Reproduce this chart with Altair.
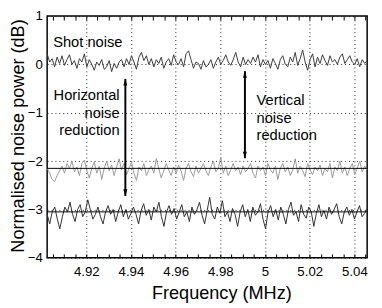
import altair as alt
import numpy as np
import pandas as pd

FONT = "Liberation Sans"
X_DOMAIN = [4.9025, 5.0457]
Y_DOMAIN = [-4, 1]

shot = [0.22, 0.05, 0.12, -0.05, 0.15, 0.02, 0.18, -0.02, 0.1, 0.2, 0.0, 0.08, -0.08, 0.12, 0.05, 0.22, -0.05, 0.1, 0.0, -0.12,
        0.05, -0.02, 0.1, -0.1, -0.05, 0.08, -0.15, 0.02, -0.08, 0.05, 0.1, -0.05, 0.12, 0.0, 0.18, 0.05, -0.1, 0.15, 0.25, 0.08,
        0.18, 0.0, 0.12, -0.05, 0.1, 0.02, 0.15, -0.08, 0.05, 0.12, -0.02, 0.2, 0.05, 0.0, 0.12, -0.05, 0.22, 0.28, 0.1, -0.08,
        0.05, 0.02, -0.1, 0.08, -0.05, 0.0, 0.1, -0.08, 0.05, 0.15, 0.0, 0.08, 0.2, 0.05, -0.02, 0.1, 0.25, 0.05, -0.05, 0.15,
        0.0, 0.1, 0.02, 0.15, 0.05, 0.2, -0.05, 0.1, 0.0, 0.08, -0.08, 0.12, 0.02, -0.1, 0.1, 0.18, 0.0, -0.05, 0.15, 0.05,
        0.25, -0.02, 0.12, 0.3, 0.05, -0.12, 0.1, 0.22, -0.05, 0.15, 0.02, 0.2, 0.08, -0.02, 0.18, 0.05, 0.1, 0.0, 0.15, 0.22,
        0.02, 0.1, 0.18, 0.05, 0.0, 0.12, -0.05, 0.1, 0.02, 0.08]

vertical = [-2.15, -2.25, -2.38, -2.42, -2.3, -2.2, -2.1, -2.25, -2.05, -2.15, -2.0, -2.22, -2.12, -2.3, -2.05, -1.98, -2.2, -2.35, -2.15, -2.02,
            -2.25, -2.1, -2.38, -2.15, -2.0, -2.2, -2.08, -2.3, -2.12, -1.95, -2.18, -2.05, -2.28, -2.15, -2.02, -2.25, -2.4, -2.12, -2.2, -2.05,
            -2.3, -2.18, -2.1, -2.25, -1.95, -2.15, -2.35, -2.2, -2.05, -2.18, -2.3, -2.12, -2.25, -2.08, -2.2, -2.4, -2.15, -2.05, -2.22, -2.32,
            -2.1, -2.25, -2.15, -2.05, -2.2, -2.3, -2.12, -2.0, -2.22, -2.15, -1.92, -2.25, -2.1, -2.3, -2.18, -2.05, -2.2, -2.12, -2.28, -2.1,
            -2.22, -2.15, -2.05, -2.25, -2.35, -2.1, -2.2, -2.12, -2.3, -2.05, -2.18, -2.25, -2.1, -2.38, -2.15, -2.05, -2.22, -2.12, -2.3, -2.18,
            -1.95, -2.25, -2.1, -2.2, -2.32, -2.05, -2.18, -2.28, -2.12, -2.2, -2.08, -2.3, -2.15, -2.22, -2.05, -2.35, -2.12, -2.2, -2.0, -2.25,
            -2.12, -2.3, -2.15, -2.05, -2.28, -2.15, -2.0, -2.22, -2.1, -2.18]

horizontal = [-3.1, -3.3, -3.05, -2.95, -3.2, -3.4, -3.15, -2.95, -3.05, -2.85, -3.1, -3.25, -3.0, -2.9, -3.15, -3.05, -2.8, -3.0, -3.2, -3.1,
              -2.95, -3.15, -3.3, -3.05, -2.92, -3.1, -3.0, -3.25, -3.05, -2.9, -3.15, -3.0, -3.2, -3.08, -2.95, -3.1, -3.3, -3.02, -2.88, -3.12,
              -3.0, -3.22, -2.95, -3.05, -2.85, -3.15, -3.35, -3.05, -2.92, -3.1, -2.98, -3.2, -3.05, -2.9, -3.15, -3.05, -3.25, -2.95, -3.1, -3.0,
              -2.85, -3.12, -3.3, -3.02, -2.75, -3.1, -3.2, -2.95, -3.08, -2.82, -3.15, -3.05, -3.25, -2.98, -3.1, -3.35, -3.05, -2.9, -3.15, -3.0,
              -3.25, -2.95, -3.12, -3.05, -2.88, -3.2, -3.4, -3.05, -2.92, -3.15, -3.0, -3.22, -2.95, -3.1, -3.3, -3.0, -2.85, -3.12, -3.05, -3.25,
              -2.9, -3.1, -3.18, -2.95, -3.05, -3.35, -3.08, -2.9, -3.15, -3.02, -3.2, -2.95, -3.1, -3.0, -2.88, -3.15, -3.3, -3.05, -2.95, -3.12,
              -3.0, -3.2, -3.05, -2.92, -3.15, -3.08, -2.98]

series_names = ["shot", "vertical", "horizontal"]
series_colors = ["#3c3c3c", "#9a9a9a", "#303030"]

ref_levels = [-2.15, -3.05]

x_ticks = [4.92, 4.94, 4.96, 4.98, 5.0, 5.02, 5.04]
x_minor = [round(4.905 + 0.005 * i, 3) for i in range(29)]
y_ticks = [-4, -3, -2, -1, 0, 1]

arrow_x = [4.9375, 4.9910]
arrow_top = [-0.30, -0.14]
arrow_bottom = [-2.72, -1.94]

label_text = ["Shot noise", "Horizontal", "noise", "reduction", "Vertical", "noise", "reduction"]
label_x = [4.9052, 4.9349, 4.9349, 4.9349, 4.9962, 4.9962, 4.9962]
label_y = [0.46, -0.64, -1.0, -1.36, -0.74, -1.1, -1.46]
label_align = ["left", "right", "right", "right", "left", "left", "left"]

rows = []
for name, vals in zip(series_names, [shot, vertical, horizontal]):
    xs_ = np.linspace(X_DOMAIN[0], X_DOMAIN[1], len(vals))
    for xv, yv in zip(xs_, vals):
        rows.append({"f": float(xv), "p": yv, "series": name})
df_tr = pd.DataFrame(rows)
df_h = pd.DataFrame({"p": ref_levels})
df_arr = pd.DataFrame({"f": arrow_x, "p": arrow_top, "p2": arrow_bottom})
df_heads = pd.DataFrame({
    "f": arrow_x + arrow_x,
    "p": arrow_top + arrow_bottom,
    "dir": ["up", "up", "down", "down"],
})
df_lab = pd.DataFrame({"f": label_x, "p": label_y, "t": label_text, "a": label_align})

xs = alt.Scale(domain=X_DOMAIN, nice=False, zero=False)
ys = alt.Scale(domain=Y_DOMAIN, nice=False, zero=False)

x_axis_main = alt.Axis(
    values=x_ticks, title="Frequency (MHz)", labelFont=FONT, titleFont=FONT,
    labelFontSize=13.5, titleFontSize=18.5, titleFontWeight="normal", labelColor="black", titleColor="black",
    tickSize=0, domain=False, labelPadding=7,
    titleX=178, titleY=36, titleBaseline="middle", titleAlign="center",
    grid=True, gridDash=[1, 3], gridColor="#222", gridOpacity=1,
    format="~g", labelFlush=False, labelOverlap=False,
)
x_axis_minor_bottom = alt.Axis(
    orient="bottom", values=x_minor, labels=False, title=None,
    tickSize=4, offset=-4, tickColor="black", domain=False, grid=False,
)
x_axis_minor_top = alt.Axis(
    orient="top", values=x_minor, labels=False, title=None,
    tickSize=4, offset=-4, tickColor="black", domain=False, grid=False,
)
y_axis = alt.Axis(
    values=y_ticks, title="Normalised noise power (dB)", labelFont=FONT, titleFont=FONT,
    labelFontSize=13.5, titleFontSize=18.5, titleFontWeight="normal", labelColor="black", titleColor="black",
    tickSize=0, domain=False, labelPadding=5,
    titleX=-30, titleY=122, titleBaseline="middle", titleAlign="center", titleAngle=270,
    grid=True, gridDash=[1, 3], gridColor="#222",
    labelFlush=False,
)

traces = alt.Chart(df_tr).mark_line(strokeWidth=1).encode(
    x=alt.X("f:Q", scale=xs, axis=x_axis_main),
    y=alt.Y("p:Q", scale=ys, axis=y_axis),
    color=alt.Color("series:N", scale=alt.Scale(domain=series_names, range=series_colors), legend=None),
)

hl = alt.Chart(df_h).mark_rule(color="black", strokeWidth=1).encode(
    y=alt.Y("p:Q", scale=ys, axis=y_axis),
)

arrows = alt.Chart(df_arr).mark_rule(color="black", strokeWidth=2).encode(
    x=alt.X("f:Q", scale=xs, axis=x_axis_minor_bottom),
    y=alt.Y("p:Q", scale=ys, axis=y_axis),
    y2="p2:Q",
)

heads = alt.Chart(df_heads).mark_point(filled=True, color="black", opacity=1, size=80, strokeWidth=0).encode(
    x=alt.X("f:Q", scale=xs, axis=x_axis_minor_top),
    y=alt.Y("p:Q", scale=ys, axis=y_axis),
    shape=alt.Shape("dir:N", scale=alt.Scale(domain=["up", "down"],
                                             range=["M0,0L-0.45,1.5L0.45,1.5Z", "M0,0L-0.45,-1.5L0.45,-1.5Z"]),
                    legend=None),
)

labels_left = alt.Chart(df_lab).transform_filter("datum.a == 'left'").mark_text(
    font=FONT, fontSize=15, align="left", baseline="middle", color="black").encode(
    x=alt.X("f:Q", scale=xs, axis=None), y=alt.Y("p:Q", scale=ys, axis=y_axis), text="t:N")
labels_right = alt.Chart(df_lab).transform_filter("datum.a == 'right'").mark_text(
    font=FONT, fontSize=15, align="right", baseline="middle", color="black").encode(
    x=alt.X("f:Q", scale=xs, axis=None), y=alt.Y("p:Q", scale=ys, axis=y_axis), text="t:N")

chart = alt.layer(traces, hl, arrows, heads, labels_left, labels_right).resolve_axis(
    x="independent"
).resolve_scale(color="independent", shape="independent").properties(
    width=327, height=247, autosize="none", background="white",
    padding={"left": 40, "top": 5, "right": 7, "bottom": 47},
).configure_view(stroke="black", strokeWidth=1.5)

chart.save("out.html", embed_options={"renderer": "svg", "actions": False})
